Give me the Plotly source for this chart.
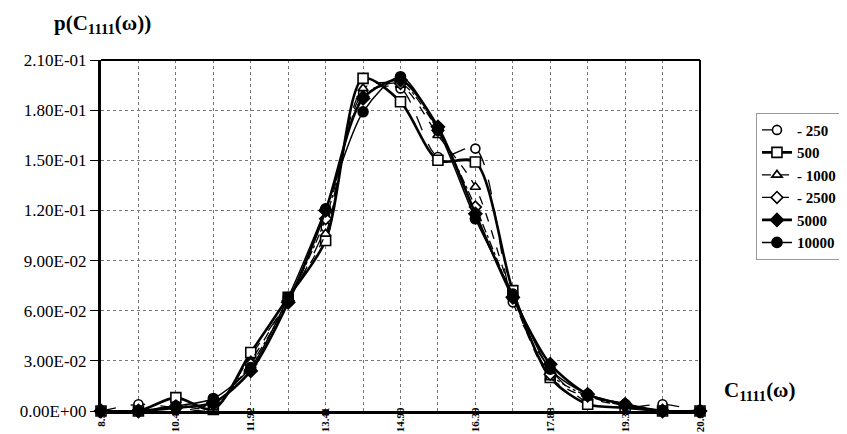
import plotly.graph_objects as go

# x positions (category centres) and tick labels
x_vals = [8.94, 9.685, 10.43, 11.175, 11.92, 12.665, 13.41, 14.155, 14.90,
          15.645, 16.39, 17.135, 17.88, 18.625, 19.37, 20.115, 20.86]
x_tick_vals = [8.94, 10.43, 11.92, 13.41, 14.90, 16.39, 17.88, 19.37, 20.86]
x_tick_text = ["8.94", "10.43", "11.92", "13.41", "14.90", "16.39", "17.88", "19.37", "20.86"]

y_tick_vals = [0, 0.03, 0.06, 0.09, 0.12, 0.15, 0.18, 0.21]
y_tick_text = ["0.00E+00", "3.00E-02", "6.00E-02", "9.00E-02", "1.20E-01",
               "1.50E-01", "1.80E-01", "2.10E-01"]

series_names = ["- 250", "500", "- 1000", "- 2500", "5000", "10000"]

p_250 = [0, 0.004, 0.002, 0.001, 0.033, 0.066, 0.110, 0.190, 0.193, 0.152,
         0.157, 0.065, 0.025, 0.005, 0.002, 0.004, 0]
p_500 = [0, 0, 0.008, 0.001, 0.035, 0.068, 0.102, 0.199, 0.185, 0.150,
         0.149, 0.072, 0.020, 0.004, 0.002, 0, 0]
p_1000 = [0, 0, 0.003, 0.002, 0.030, 0.067, 0.106, 0.193, 0.195, 0.165,
          0.134, 0.068, 0.020, 0.008, 0.003, 0, 0]
p_2500 = [0, 0, 0.003, 0.004, 0.028, 0.066, 0.115, 0.188, 0.196, 0.168,
          0.122, 0.068, 0.022, 0.009, 0.003, 0, 0]
p_5000 = [0, 0, 0.002, 0.005, 0.024, 0.065, 0.120, 0.187, 0.198, 0.170,
          0.118, 0.068, 0.028, 0.010, 0.004, 0, 0]
p_10000 = [0, 0, 0.003, 0.0075, 0.026, 0.068, 0.121, 0.179, 0.200, 0.168,
           0.115, 0.070, 0.025, 0.010, 0.004, 0, 0]

all_series = [p_250, p_500, p_1000, p_2500, p_5000, p_10000]
symbols = ["circle", "square", "triangle-up", "diamond", "diamond", "circle"]
fills = ["white", "white", "white", "white", "black", "black"]
dashes = ["longdash", "solid", "dash", "dashdot", "solid", "solid"]
widths = [1.3, 2.6, 1.3, 1.3, 2.6, 1.5]
sizes = [9, 10, 9, 9, 10, 10]

SERIF = "Liberation Serif, Times New Roman, serif"

fig = go.Figure()
for i, (name, ys) in enumerate(zip(series_names, all_series)):
    fig.add_trace(go.Scatter(
        x=x_vals, y=ys, name=name, mode="lines+markers",
        line=dict(color="black", width=widths[i], dash=dashes[i],
                  shape="spline", smoothing=0.8),
        marker=dict(symbol=symbols[i], size=sizes[i], color=fills[i],
                    line=dict(color="black", width=1.6)),
        cliponaxis=False, legendgroup=f"g{i}",
    ))

fig.update_layout(
    width=847, height=434,
    margin=dict(l=93, r=155, t=52, b=31, autoexpand=False),
    paper_bgcolor="white", plot_bgcolor="white",
    font=dict(family=SERIF, color="black", size=15),
    showlegend=True,
    legend=dict(x=1.237, y=0.85, xanchor="right", yanchor="top",
                bordercolor="#999999", borderwidth=1, bgcolor="white",
                font=dict(family=SERIF, size=15, color="black", weight="bold"),
                tracegroupgap=16, itemwidth=30, traceorder="normal"),
    xaxis=dict(range=[8.94, 20.86], tickvals=x_tick_vals, ticktext=x_tick_text,
               tickangle=-90, showgrid=False, zeroline=False,
               showline=True, linecolor="black", linewidth=3, mirror=False,
               ticks="", ticklabelstandoff=-11,
               tickfont=dict(family=SERIF, size=11, weight="bold"),
               minor=dict(tickvals=x_vals, showgrid=True, gridcolor="#777777",
                          griddash="dot", gridwidth=1)),
    yaxis=dict(range=[0, 0.21], tickvals=y_tick_vals, ticktext=y_tick_text,
               showgrid=True, gridcolor="#777777", griddash="dot", gridwidth=1,
               zeroline=False, showline=True, linecolor="black", linewidth=3,
               ticks="outside", ticklen=8, tickcolor="black",
               tickfont=dict(family=SERIF, size=17)),
)

# top and right frame
fig.add_shape(type="line", xref="paper", yref="paper", x0=0, x1=1, y0=1, y1=1,
              line=dict(color="black", width=2))
fig.add_shape(type="line", xref="paper", yref="paper", x0=1, x1=1, y0=0, y1=1,
              line=dict(color="black", width=2))

fig.add_annotation(text="p(C<sub>1111</sub>(ω))", xref="paper", yref="paper",
                   x=-0.081, y=1.102, xanchor="left", yanchor="middle",
                   showarrow=False,
                   font=dict(family=SERIF, size=21, weight="bold"))
fig.add_annotation(text="C<sub>1111</sub>(ω)", xref="paper", yref="paper",
                   x=1.037, y=0.057, xanchor="left", yanchor="middle",
                   showarrow=False,
                   font=dict(family=SERIF, size=21, weight="bold"))

fig.write_html("out.html")
